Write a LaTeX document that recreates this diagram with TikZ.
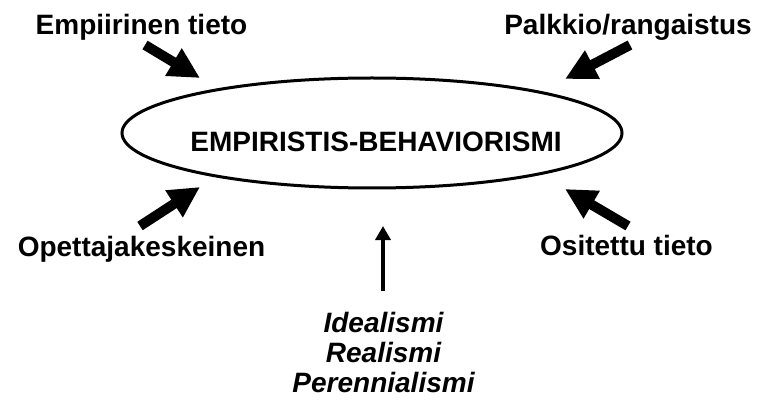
\documentclass[tikz,border=0pt]{standalone}
\usepackage{fontspec}
\setmainfont{Liberation Sans}
\usetikzlibrary{arrows.meta}
\begin{document}
\begin{tikzpicture}[x=1pt,y=-1pt,
  label/.style={font=\fontsize{28}{30}\selectfont\bfseries, inner sep=0pt, anchor=base},
  school/.style={font=\fontsize{28}{30}\selectfont\bfseries\itshape, inner sep=0pt, anchor=base},
  fatarrow/.style={line width=10pt, -{Triangle[length=31pt,width=30pt]}},
  thinarrow/.style={line width=4pt, -{Triangle[length=14pt,width=15pt]}}]
\useasboundingbox (0,0) rectangle (757,406);

% central ellipse
\draw[line width=3pt] (372,133) ellipse [x radius=250, y radius=55];
\node[label] (center) at (376,152) {EMPIRISTIS-BEHAVIORISMI};

% surrounding labels
\node[label] (emp) at (141.5,35) {Empiirinen tieto};
\node[label] (pal) at (628,35) {Palkkio/rangaistus};
\node[label] (ope) at (141.5,256) {Opettajakeskeinen};
\node[label] (osi) at (626.5,255) {Ositettu tieto};

% philosophical schools
\node[school] (ide) at (383.5,332) {Idealismi};
\node[school] (rea) at (383.5,362) {Realismi};
\node[school] (per) at (383.5,392) {Perennialismi};

% arrow end points
\coordinate (tlA) at (145,45);  \coordinate (tlB) at (200,78);
\coordinate (trA) at (630,45);  \coordinate (trB) at (565,79);
\coordinate (blA) at (140,226); \coordinate (blB) at (200,187);
\coordinate (brA) at (628,226); \coordinate (brB) at (565,189);
\coordinate (upA) at (383,291); \coordinate (upB) at (383,226);

\draw[fatarrow] (tlA) -- (tlB);
\draw[fatarrow] (trA) -- (trB);
\draw[fatarrow] (blA) -- (blB);
\draw[fatarrow] (brA) -- (brB);
\draw[thinarrow] (upA) -- (upB);
\end{tikzpicture}
\end{document}
